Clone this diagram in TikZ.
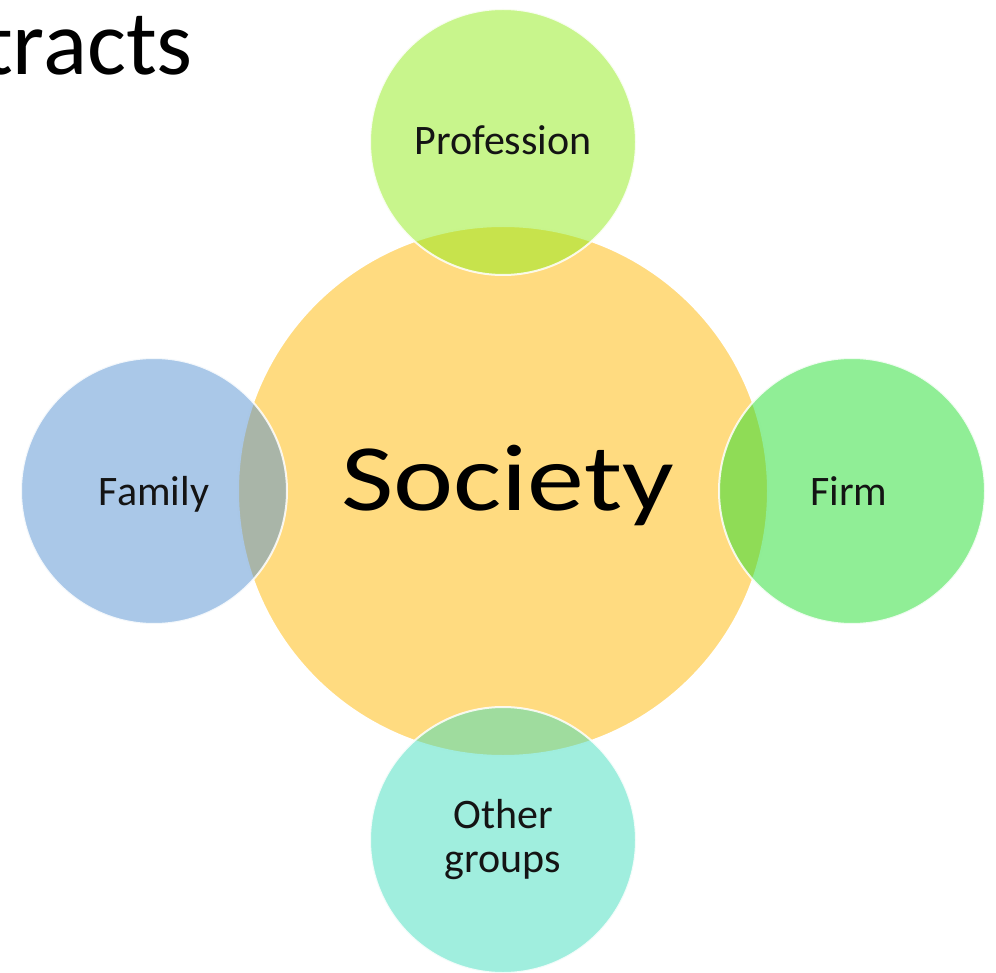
\documentclass[tikz,border=0pt]{standalone}
\usepackage{fontspec}
\setmainfont{Carlito}
\definecolor{socfill}{RGB}{255,219,128}
\definecolor{proffill}{RGB}{145,235,25}
\definecolor{famfill}{RGB}{85,145,209}
\definecolor{firmfill}{RGB}{33,221,45}
\definecolor{othfill}{RGB}{65,221,189}
\definecolor{txt}{RGB}{20,20,20}
\begin{document}
\begin{tikzpicture}[x=1pt,y=-1pt,
  hub/.style={circle, minimum size=530pt, inner sep=0pt, fill=socfill, draw=white, line width=2pt},
  sat/.style={circle, minimum size=266pt, inner sep=0pt, fill=#1, fill opacity=0.5, draw=white, draw opacity=0.85, line width=2pt},
  lab/.style={inner sep=0pt, anchor=base, text=txt, font=\fontsize{42}{44}\selectfont},
]
\useasboundingbox (0,0) rectangle (996,973);
\clip (0,0) rectangle (996,973);
\node[inner sep=0pt, anchor=base east, font=\fontsize{92}{100}\selectfont] (title) at (193,75) {tracts};
\node[hub] (soc) at (503,491) {};
\node[sat=proffill] (prof) at (503,142) {};
\node[sat=famfill] (fam) at (154,491) {};
\node[sat=firmfill] (firm) at (852,491) {};
\node[sat=othfill] (oth) at (503,840) {};
\node[inner sep=0pt, anchor=base, text=black, font=\fontsize{95}{100}\selectfont] (soclab) at (507.5,510) {\scalebox{1.2}[1]{Society}};
\node[lab] (proflab) at (503,155) {Profession};
\node[lab] (famlab) at (154,505) {Family};
\node[lab] (firmlab) at (849,505) {Firm};
\node[lab] (othlab1) at (503,828) {Other};
\node[lab] (othlab2) at (503,872) {groups};
\end{tikzpicture}
\end{document}
